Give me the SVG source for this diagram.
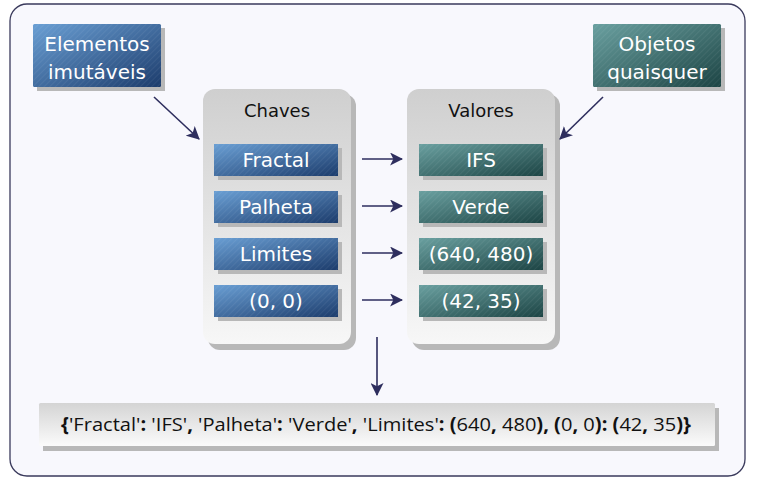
<svg xmlns="http://www.w3.org/2000/svg" width="759" height="482" viewBox="0 0 759 482">
<defs>
<linearGradient id="gBlue" x1="0" y1="0" x2="1" y2="1">
<stop offset="0" stop-color="#6a9fd4"/><stop offset="1" stop-color="#1c3c6c"/>
</linearGradient>
<linearGradient id="gTeal" x1="0" y1="0" x2="1" y2="1">
<stop offset="0" stop-color="#6aa0a0"/><stop offset="1" stop-color="#1c4444"/>
</linearGradient>
<linearGradient id="gPanel" x1="0" y1="0" x2="0" y2="1">
<stop offset="0" stop-color="#cfcfcf"/><stop offset="1" stop-color="#f7f7f7"/>
</linearGradient>
<linearGradient id="gBar" x1="0" y1="0" x2="0" y2="1">
<stop offset="0" stop-color="#d4d4d4"/><stop offset="1" stop-color="#fbfbfb"/>
</linearGradient>
<pattern id="hatch" width="4" height="4" patternUnits="userSpaceOnUse" patternTransform="rotate(45)">
<rect width="1" height="4" fill="#ffffff" opacity="0.06"/>
</pattern>
<marker id="ahb" viewBox="0 0 12 12" refX="11" refY="6" markerWidth="13" markerHeight="13" markerUnits="userSpaceOnUse" orient="auto">
<path d="M0,0 L12,6 L0,12 L3,6 Z" fill="#2e2e5e"/>
</marker>
</defs>
<style>
.frame{fill:#f8f8fd;stroke:#3a3a5c;stroke-width:1.3}
.shadow{fill:#b8b8b8}
.blue{fill:url(#gBlue)}
.teal{fill:url(#gTeal)}
.hatch{fill:url(#hatch)}
.panel{fill:url(#gPanel)}
.wt{font-family:"DejaVu Sans",Verdana,sans-serif;font-size:20px;fill:#ffffff;text-anchor:middle}
.bt{font-family:"DejaVu Sans",Verdana,sans-serif;font-size:18px;fill:#111111;text-anchor:middle}
.conn{stroke:#2e2e5e;stroke-width:1.6;fill:none}
.dict{font-family:"Open Sans","Liberation Sans",sans-serif;font-size:19px;fill:#111}
.b{font-weight:bold}
</style>
<rect class="frame" x="10" y="4" width="735" height="472" rx="17"/>

<g id="elementos">
<rect class="shadow" x="37" y="28" width="128" height="63"/>
<rect class="blue" x="33" y="24" width="128" height="63" rx="1.5"/>
<rect class="hatch" x="33" y="24" width="128" height="63"/>
<text class="wt" x="97" y="51">Elementos</text>
<text class="wt" x="97" y="79">imutáveis</text>
</g>

<g id="objetos">
<rect class="shadow" x="597" y="28" width="128" height="63"/>
<rect class="teal" x="593" y="24" width="128" height="63" rx="1.5"/>
<rect class="hatch" x="593" y="24" width="128" height="63"/>
<text class="wt" x="657" y="51">Objetos</text>
<text class="wt" x="657" y="79">quaisquer</text>
</g>

<g id="chaves">
<rect class="shadow" x="208" y="94" width="148" height="256" rx="12"/>
<rect class="panel" x="203" y="89" width="148" height="255" rx="12"/>
<text class="bt" x="277" y="117">Chaves</text>
</g>

<g id="valores">
<rect class="shadow" x="412" y="94" width="148" height="256" rx="12"/>
<rect class="panel" x="407" y="89" width="148" height="255" rx="12"/>
<text class="bt" x="481" y="117">Valores</text>
</g>

<g id="k-fractal">
<rect class="shadow" x="218" y="148" width="124" height="32"/>
<rect class="blue" x="214" y="144" width="124" height="32"/>
<rect class="hatch" x="214" y="144" width="124" height="32"/>
<text class="wt" x="276" y="167">Fractal</text>
</g>
<g id="k-palheta">
<rect class="shadow" x="218" y="195" width="124" height="32"/>
<rect class="blue" x="214" y="191" width="124" height="32"/>
<rect class="hatch" x="214" y="191" width="124" height="32"/>
<text class="wt" x="276" y="214">Palheta</text>
</g>
<g id="k-limites">
<rect class="shadow" x="218" y="242" width="124" height="32"/>
<rect class="blue" x="214" y="238" width="124" height="32"/>
<rect class="hatch" x="214" y="238" width="124" height="32"/>
<text class="wt" x="276" y="261">Limites</text>
</g>
<g id="k-00">
<rect class="shadow" x="218" y="289" width="124" height="32"/>
<rect class="blue" x="214" y="285" width="124" height="32"/>
<rect class="hatch" x="214" y="285" width="124" height="32"/>
<text class="wt" x="276" y="308">(0, 0)</text>
</g>

<g id="v-ifs">
<rect class="shadow" x="423" y="148" width="124" height="32"/>
<rect class="teal" x="419" y="144" width="124" height="32"/>
<rect class="hatch" x="419" y="144" width="124" height="32"/>
<text class="wt" x="481" y="167">IFS</text>
</g>
<g id="v-verde">
<rect class="shadow" x="423" y="195" width="124" height="32"/>
<rect class="teal" x="419" y="191" width="124" height="32"/>
<rect class="hatch" x="419" y="191" width="124" height="32"/>
<text class="wt" x="481" y="214">Verde</text>
</g>
<g id="v-640">
<rect class="shadow" x="423" y="242" width="124" height="32"/>
<rect class="teal" x="419" y="238" width="124" height="32"/>
<rect class="hatch" x="419" y="238" width="124" height="32"/>
<text class="wt" x="481" y="261">(640, 480)</text>
</g>
<g id="v-4235">
<rect class="shadow" x="423" y="289" width="124" height="32"/>
<rect class="teal" x="419" y="285" width="124" height="32"/>
<rect class="hatch" x="419" y="285" width="124" height="32"/>
<text class="wt" x="481" y="308">(42, 35)</text>
</g>

<g id="resultado">
<rect class="shadow" x="43" y="408" width="676" height="43"/>
<rect fill="url(#gBar)" x="39" y="403" width="676" height="43" rx="1.5"/>
<text class="dict" x="376" y="431" text-anchor="middle" textLength="630" lengthAdjust="spacingAndGlyphs"><tspan class="b">{</tspan>'Fractal'<tspan class="b">:</tspan> 'IFS'<tspan class="b">,</tspan> 'Palheta'<tspan class="b">:</tspan> 'Verde'<tspan class="b">,</tspan> 'Limites'<tspan class="b">: (</tspan>640<tspan class="b">,</tspan> 480<tspan class="b">), (</tspan>0<tspan class="b">,</tspan> 0<tspan class="b">): (</tspan>42<tspan class="b">,</tspan> 35<tspan class="b">)}</tspan></text>
</g>

<g id="connectors">
<line class="conn" x1="154" y1="97" x2="199" y2="139" marker-end="url(#ahb)"/>
<line class="conn" x1="603" y1="97" x2="560" y2="139" marker-end="url(#ahb)"/>
<line class="conn" x1="362" y1="159" x2="402" y2="159" marker-end="url(#ahb)"/>
<line class="conn" x1="362" y1="206" x2="402" y2="206" marker-end="url(#ahb)"/>
<line class="conn" x1="362" y1="253" x2="402" y2="253" marker-end="url(#ahb)"/>
<line class="conn" x1="362" y1="300" x2="402" y2="300" marker-end="url(#ahb)"/>
<line class="conn" x1="377" y1="337" x2="377" y2="395" marker-end="url(#ahb)"/>
</g>
</svg>
